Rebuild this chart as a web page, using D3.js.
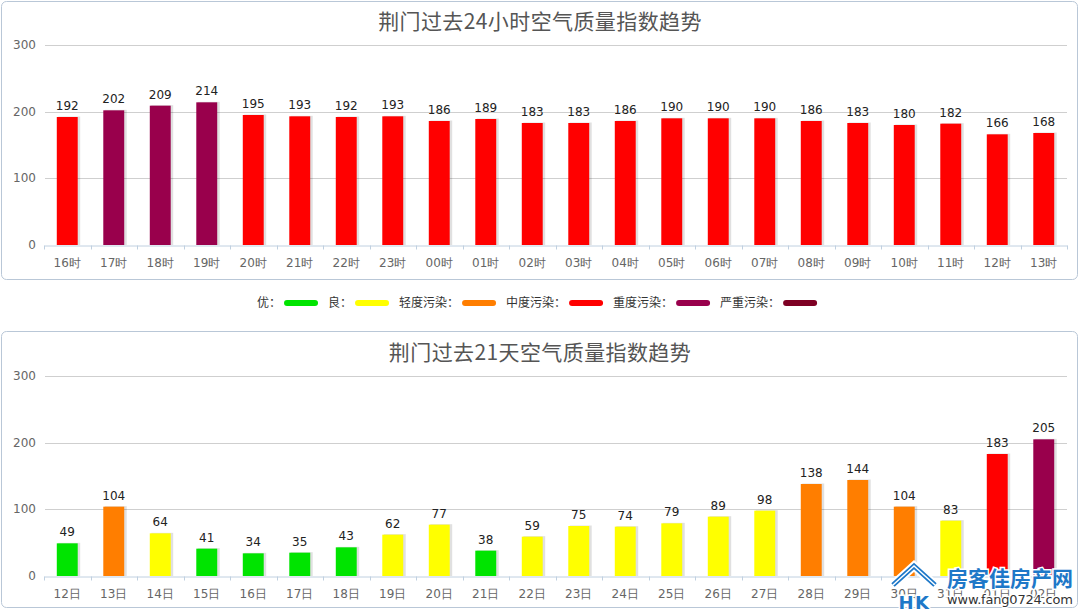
<!DOCTYPE html>
<html><head><meta charset="utf-8">
<script src="https://cdn.jsdelivr.net/npm/d3@7/dist/d3.min.js"></script>
<style>
html,body{margin:0;padding:0;background:#fff;}
svg{display:block;}
</style></head>
<body>
<svg id="chart" width="1080" height="612"></svg>
<script>
// ---- data ----
const hourLabels = ["16时","17时","18时","19时","20时","21时","22时","23时","00时","01时","02时","03时","04时","05时","06时","07时","08时","09时","10时","11时","12时","13时"];
const hourValues = [192,202,209,214,195,193,192,193,186,189,183,183,186,190,190,190,186,183,180,182,166,168];
const dayLabels = ["12日","13日","14日","15日","16日","17日","18日","19日","20日","21日","22日","23日","24日","25日","26日","27日","28日","29日","30日","31日","01日","02日"];
const dayValues = [49,104,64,41,34,35,43,62,77,38,59,75,74,79,89,98,138,144,104,83,183,205];
const yTicks = [0,100,200,300];
const levelNames = ["优","良","轻度污染","中度污染","重度污染","严重污染"];
const levelColors = ["#00e400","#ffff00","#ff7e00","#ff0000","#99004c","#7e0023"];
const levelBreaks = [51,101,151,201,301];
const titles = ["荆门过去24小时空气质量指数趋势","荆门过去21天空气质量指数趋势"];

const svg = d3.select("#chart");
const color = d3.scaleThreshold().domain(levelBreaks).range(levelColors);
const FONT = "'DejaVu Sans', Verdana, sans-serif";
const CJK = "'Noto Sans CJK SC', 'Noto Sans', sans-serif";

function drawPanel(cfg){
  const g = svg.append("g");
  g.append("rect").attr("x",1.5).attr("y",cfg.panelTop+0.5).attr("width",1076).attr("height",cfg.panelH)
    .attr("rx",5).attr("fill","#fff").attr("stroke","#b9c7d7").attr("stroke-width",1);
  g.append("text").attr("x",540).attr("y",cfg.titleY).attr("text-anchor","middle")
    .attr("font-family",CJK).attr("font-size",21).attr("letter-spacing",0.4).attr("fill","#555")
    .text(cfg.title);
  const x = d3.scaleBand().domain(cfg.labels).range([44,1067]).paddingInner(0.55).paddingOuter(0.275);
  const y = d3.scaleLinear().domain([0,300]).range([cfg.y0, cfg.y0-200]);
  // gridlines
  g.append("g").selectAll("line").data(yTicks.filter(t=>t>0)).join("line")
    .attr("x1",45).attr("x2",1067).attr("y1",d=>Math.round(y(d))+0.5).attr("y2",d=>Math.round(y(d))+0.5)
    .attr("stroke","#cfcfcf").attr("stroke-width",1);
  // y labels
  g.append("g").selectAll("text").data(yTicks).join("text")
    .attr("x",36).attr("y",d=>y(d)+4).attr("text-anchor","end")
    .attr("font-family",FONT).attr("font-size",12).attr("fill","#666").text(d=>d);
  // x axis
  const xAxis = d3.axisBottom(x).tickSize(0).tickPadding(13);
  const ax = g.append("g").attr("transform",`translate(0,${Math.round(cfg.y0)+0.5})`).call(xAxis);
  ax.select(".domain").attr("stroke","#c0d0e0");
  ax.selectAll("text").attr("font-family",FONT).attr("font-size",12).attr("fill","#666");
  // boundary ticks
  const step = x.step();
  const bounds = d3.range(cfg.labels.length+1).map(i=>44+i*step);
  ax.append("g").selectAll("line").data(bounds).join("line")
    .attr("x1",d=>Math.round(d)+0.5).attr("x2",d=>Math.round(d)+0.5).attr("y1",0).attr("y2",4)
    .attr("stroke","#c0d0e0");
  // bars
  const bars = g.append("g");
  bars.selectAll("rect.sh").data(cfg.values).join("rect").attr("class","sh")
    .attr("x",(d,i)=>x(cfg.labels[i])+1.5).attr("y",d=>y(d)-0.5)
    .attr("width",x.bandwidth()+1).attr("height",d=>y(0)-y(d)+0.5)
    .attr("fill","rgba(0,0,0,0.12)");
  bars.selectAll("rect.bar").data(cfg.values).join("rect").attr("class","bar")
    .attr("x",(d,i)=>x(cfg.labels[i])).attr("y",d=>y(d))
    .attr("width",x.bandwidth()).attr("height",d=>y(0)-y(d))
    .attr("fill",d=>color(d));
  // value labels
  g.append("g").selectAll("text").data(cfg.values).join("text")
    .attr("x",(d,i)=>x(cfg.labels[i])+x.bandwidth()/2).attr("y",d=>y(d)-7)
    .attr("text-anchor","middle").attr("font-family",FONT).attr("font-size",12).attr("fill","#222")
    .text(d=>d);
}

drawPanel({panelTop:1, panelH:278, titleY:29, title:titles[0], labels:hourLabels, values:hourValues, y0:245});
drawPanel({panelTop:331, panelH:276, titleY:360, title:titles[1], labels:dayLabels, values:dayValues, y0:576});

// legend
const lg = svg.append("g");
let lx = 257;
levelNames.forEach((n,i)=>{
  const t = lg.append("text").attr("x",lx).attr("y",307).attr("font-family",CJK).attr("font-size",12)
    .attr("fill","#333").text(n+"：");
  const w = t.node().getComputedTextLength();
  lg.append("rect").attr("x",lx+w+3).attr("y",300).attr("width",34).attr("height",6).attr("rx",3)
    .attr("fill",levelColors[i]);
  lx = lx+w+3+34+10;
});

// watermark
const wm = svg.append("g");
wm.append("path").attr("d","M893,585 L914,566 L935,585").attr("fill","none")
  .attr("stroke","#fff").attr("stroke-width",9).attr("stroke-linejoin","miter");
wm.append("path").attr("d","M893,585 L914,566 L935,585").attr("fill","none")
  .attr("stroke","#1e78c8").attr("stroke-width",5);
wm.append("path").attr("d","M893,585 L914,566 L935,585").attr("fill","none")
  .attr("stroke","#fff").attr("stroke-width",1.5);
wm.append("text").attr("x",906).attr("y",609).attr("font-family",FONT).attr("font-weight","bold")
  .attr("font-size",18).attr("fill","#1e78c8").attr("stroke","#fff").attr("stroke-width",3)
  .attr("paint-order","stroke").attr("text-anchor","middle").text("H");
wm.append("text").attr("x",922).attr("y",609).attr("font-family",FONT).attr("font-weight","bold")
  .attr("font-size",18).attr("fill","#1e78c8").attr("stroke","#fff").attr("stroke-width",3)
  .attr("paint-order","stroke").attr("text-anchor","middle").text("K");
wm.append("text").attr("x",947).attr("y",586).attr("font-family",CJK).attr("font-weight","bold")
  .attr("font-size",21).attr("fill","#1e78c8").attr("stroke","#fff").attr("stroke-width",3)
  .attr("paint-order","stroke").text("房客佳房产网");
wm.append("text").attr("x",947).attr("y",604).attr("font-family",FONT)
  .attr("font-size",13).attr("fill","#333").attr("stroke","#fff").attr("stroke-width",2.5)
  .attr("paint-order","stroke").attr("textLength",126).text("www.fang0724.com");
</script>
</body></html>
